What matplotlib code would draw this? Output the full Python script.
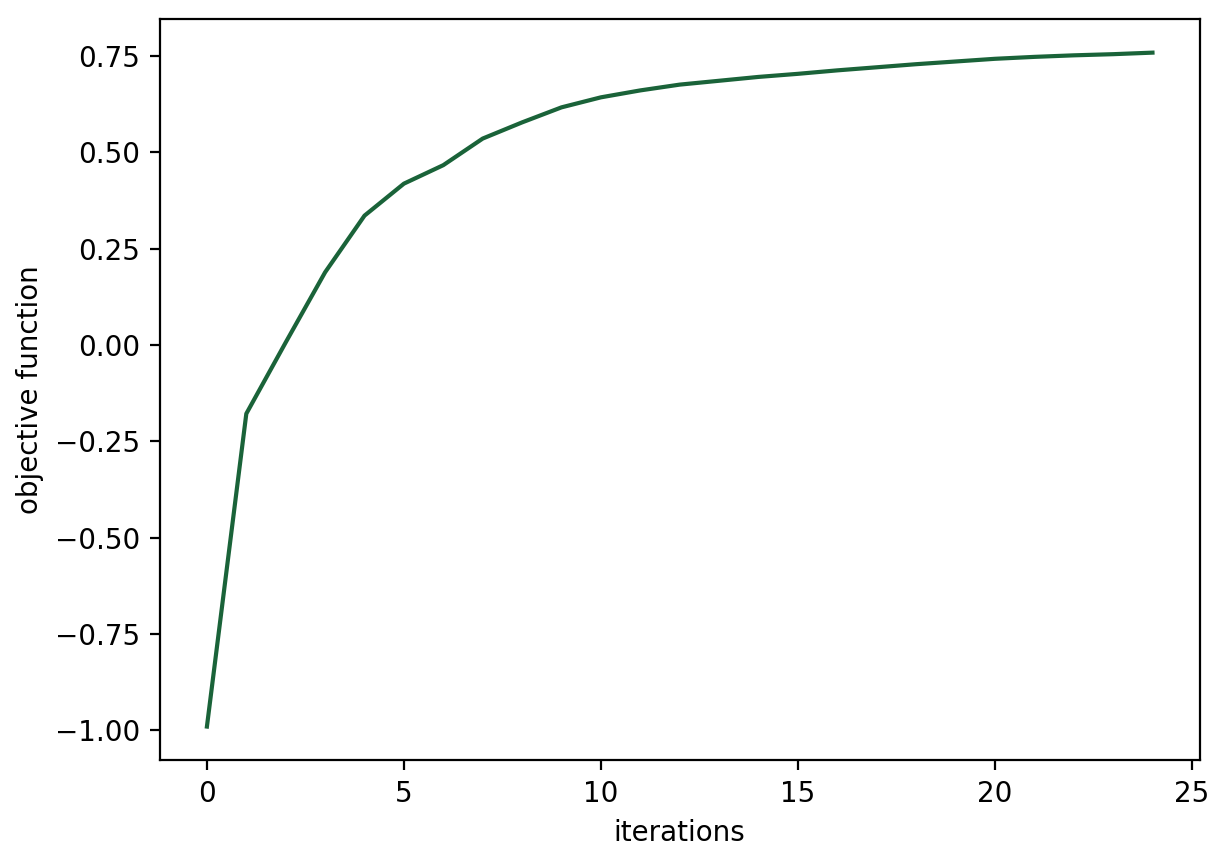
import matplotlib
matplotlib.use("Agg")
import matplotlib.pyplot as plt

iterations = list(range(25))
objective = [-0.99, -0.178, 0.007, 0.189, 0.336, 0.419, 0.467, 0.536, 0.578, 0.617,
             0.643, 0.661, 0.676, 0.686, 0.696, 0.704, 0.713, 0.721, 0.729, 0.736,
             0.743, 0.748, 0.752, 0.755, 0.759]

fig, ax = plt.subplots(figsize=(6.14, 4.305), dpi=200)
ax.plot(iterations, objective, color="#1a6339", linewidth=1.5)
ax.set_xlabel("iterations")
ax.set_ylabel("objective function")
fig.subplots_adjust(left=0.13, right=0.977, top=0.978, bottom=0.117)
fig.savefig("out.png", dpi=200)
